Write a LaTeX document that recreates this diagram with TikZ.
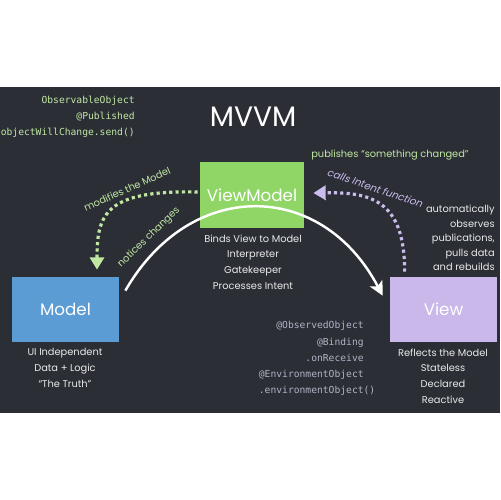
\documentclass[tikz,border=0pt]{standalone}
\usepackage{fontspec}
\setmainfont{Poppins}
\newfontfamily\codefont{DejaVu Sans Mono}
\newfontfamily\slantfont[FakeSlant=0.2]{Poppins}
\usetikzlibrary{arrows.meta,positioning}
\definecolor{chalkboard}{RGB}{43,46,53}
\definecolor{vmgreen}{RGB}{143,214,103}
\definecolor{modelblue}{RGB}{92,156,212}
\definecolor{viewpurple}{RGB}{201,184,233}
\definecolor{chalkgreen}{RGB}{193,232,163}
\definecolor{chalklilac}{RGB}{203,188,238}
\definecolor{codegray}{RGB}{178,178,198}
\definecolor{chalkwhite}{RGB}{234,234,234}
\newcommand \titlesize {\fontsize{16}{18}\selectfont}
\newcommand \boxsize {\fontsize{9.5}{11}\selectfont}
\newcommand \notesize {\fontsize{5.6}{8.9}\selectfont}
\newcommand \slantsize {\slantfont\fontsize{5.8}{7}\selectfont}
\newcommand \codesize [1] {\codefont\fontsize{5.5}{#1}\selectfont}

\begin{document}
\begin{tikzpicture}[x=0.02cm, y=-0.02cm, line join=round,
  box/.style={minimum width=2.14cm, minimum height=1.3cm, inner sep=0pt, text=white, font=\boxsize},
  note/.style={text=chalkwhite, font=\notesize, align=center, inner sep=0pt},
  code/.style={align=right, inner sep=0pt},
  chalkdots/.style={line width=1.8pt, dash pattern=on 1.8pt off 1.8pt, -{Triangle[length=7pt,width=8pt]}}]
\fill[white] (0,0) rectangle (500,500);
\fill[chalkboard] (0,87) rectangle (500,413);
\node[font=\titlesize, text=white] (title) at (253,117) {MVVM};
\node[code, font=\codesize{9.3}, text=chalkgreen, anchor=east] (pubcode) at (135,117)
  {ObservableObject\\@Published\\objectWillChange.send()};
\node[box, fill=vmgreen, minimum width=2.08cm, minimum height=1.32cm] (vm) at (252,195) {ViewModel};
\node[box, fill=modelblue] (model) at (65.5,309.5) {Model};
\node[box, fill=viewpurple] (view) at (443.5,309.5) {View};
\node[note] (vmnotes) at (253,262) {Binds View to Model\\Interpreter\\Gatekeeper\\Processes Intent};
\node[note] (modelnotes) at (65,368) {UI Independent\\Data + Logic\\“The Truth”};
\node[note] (viewnotes) at (443,376) {Reflects the Model\\Stateless\\Declared\\Reactive};
\node[code, font=\codesize{9.2}, text=codegray, anchor=east] (viewcode) at (364,358.5)
  {@ObservedObject\\@Binding\\.onReceive\\@EnvironmentObject\\.environmentObject\rlap{()}};
\node[note, font=\fontsize{5.6}{8.2}\selectfont, align=right, anchor=east] (obsnotes) at (495,238)
  {automatically\\observes\\publications,\\pulls data\\and rebuilds};
\node[font=\notesize, text=chalkgreen] (pubnote) at (390,155) {publishes “something changed”};
\node[font=\notesize, text=chalkgreen, rotate=24] (modnote) at (127,189) {modifies the Model};
\node[font=\slantsize, text=chalklilac, rotate=-19] (callnote) at (375,188) {calls Intent function};
\draw[chalkdots, chalkgreen] ([shift={(-2,-3)}]vm.west)
  .. controls +(-93,-2) and +(0,-55) .. ([shift={(31.5,-7)}]model.north);
\draw[chalkdots, chalklilac] ([shift={(15,-5)}]view.north west)
  .. controls +(0,-72) and +(57,-1) .. ([shift={(9,-2)}]vm.east);
\draw[white, line width=1.4pt, -{Stealth[length=8pt,width=8pt,inset=2pt]}] ([shift={(6,14)}]model.north east)
  .. controls +(65,-113) and +(-61,-116) .. ([shift={(-7,19)}]view.north west)
  node[pos=0.15, sloped, above=1pt, font=\notesize, text=chalkgreen] (changenote) {notices changes};
\end{tikzpicture}
\end{document}
